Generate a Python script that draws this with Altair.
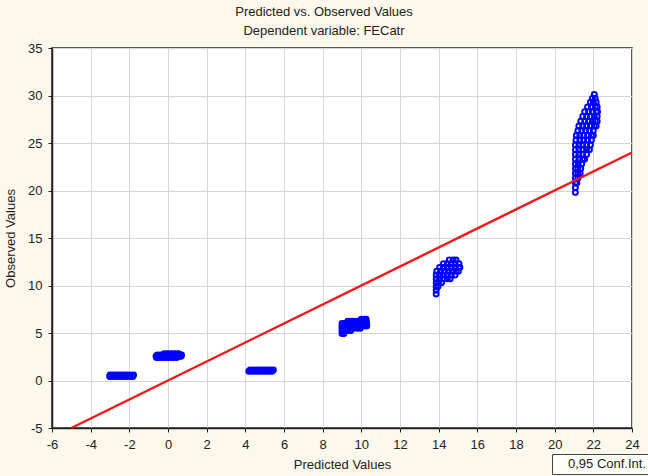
import altair as alt
import pandas as pd

cluster1 = {
    0.42: [-3.02, -2.87, -2.72, -2.57, -2.42, -2.27, -2.12, -1.97, -1.82],
    0.58: [-3.0, -2.85, -2.7, -2.55, -2.4, -2.25, -2.1, -1.95, -1.78],
}
cluster2 = {
    2.42: [-0.6, -0.45, -0.3, -0.15, 0.0, 0.15, 0.3, 0.45],
    2.55: [-0.62, -0.47, -0.32, -0.17, -0.02, 0.13, 0.28, 0.43, 0.58, 0.68],
    2.7: [-0.55, -0.4, -0.25, -0.1, 0.05, 0.2, 0.35, 0.5, 0.65, 0.7],
    2.83: [-0.2, -0.05, 0.1, 0.25, 0.4, 0.55],
}
cluster3 = {
    0.98: [4.18, 4.33, 4.48, 4.63, 4.78, 4.93, 5.08, 5.23, 5.38],
    1.1: [4.25, 4.4, 4.55, 4.7, 4.85, 5.0, 5.15, 5.3, 5.45],
}
cluster4 = {
    4.95: [9.0, 9.1],
    5.25: [9.0, 9.15, 9.3, 9.45],
    5.5: [9.0, 9.15, 9.3, 9.45, 9.6, 9.8, 9.95],
    5.75: [9.0, 9.15, 9.3, 9.45, 9.6, 9.75, 9.9, 10.05, 10.2, 10.28],
    6.0: [9.0, 9.15, 9.3, 9.45, 9.6, 9.75, 9.9, 10.05, 10.2, 10.28],
    6.25: [9.3, 9.45, 9.6, 9.8, 9.95, 10.1, 10.25],
    6.45: [10.0, 10.15, 10.25],
}
cluster5 = {
    9.1: [13.87],
    9.5: [13.87],
    9.9: [13.87, 13.97],
    10.3: [13.87, 14.0, 14.15],
    10.7: [13.87, 14.05, 14.25, 14.45, 14.6],
    11.1: [13.87, 14.05, 14.25, 14.45, 14.65, 14.85],
    11.5: [13.9, 14.1, 14.3, 14.5, 14.7, 14.9, 15.02],
    11.9: [14.05, 14.25, 14.45, 14.65, 14.85, 15.05, 15.1],
    12.3: [14.25, 14.45, 14.65, 14.85, 15.05],
    12.7: [14.55, 14.75, 14.9],
}
cluster6 = {
    19.8: [21.07],
    20.3: [21.07],
    20.8: [21.07, 21.15],
    21.3: [21.07, 21.2],
    21.8: [21.07, 21.2, 21.32],
    22.3: [21.07, 21.2, 21.35],
    22.8: [21.07, 21.22, 21.4],
    23.3: [21.07, 21.25, 21.45, 21.55],
    23.8: [21.07, 21.25, 21.45, 21.65],
    24.3: [21.07, 21.25, 21.45, 21.65, 21.8],
    24.8: [21.07, 21.25, 21.45, 21.65, 21.85],
    25.3: [21.1, 21.3, 21.5, 21.7, 21.9],
    25.8: [21.12, 21.3, 21.5, 21.7, 21.9, 22.0],
    26.3: [21.2, 21.4, 21.6, 21.8, 22.0],
    26.8: [21.25, 21.45, 21.65, 21.85, 22.05, 22.15],
    27.3: [21.35, 21.55, 21.75, 21.95, 22.1, 22.2],
    27.8: [21.45, 21.65, 21.85, 22.05, 22.2],
    28.3: [21.55, 21.75, 21.95, 22.15, 22.22],
    28.8: [21.7, 21.9, 22.1, 22.2],
    29.3: [21.85, 22.0, 22.15],
    29.7: [21.95, 22.1],
    30.1: [22.05],
}
clusters = [cluster1, cluster2, cluster3, cluster4, cluster5, cluster6]

# fitted line (observed = predicted)
line_pred = [-5, 24]
line_obs = [-5, 24]
line_label = "0,95 Conf.Int."

x_ticks = [-6, -4, -2, 0, 2, 4, 6, 8, 10, 12, 14, 16, 18, 20, 22, 24]
y_ticks = [-5, 0, 5, 10, 15, 20, 25, 30, 35]

rows = []
for c in clusters:
    for obs, preds in c.items():
        for p in preds:
            rows.append({"pred": p, "obs": obs})
pts = pd.DataFrame(rows)
ldf = pd.DataFrame({"pred": line_pred, "obs": line_obs, "lab": [line_label] * 2})

FONT = "Liberation Sans"
xs = alt.Scale(domain=[-6, 24], nice=False, zero=False)
ys = alt.Scale(domain=[-5, 35], nice=False, zero=False)

xaxis = alt.Axis(values=x_ticks, title="Predicted Values", labelExpr="datum.value",
                 grid=True, tickSize=4, labelPadding=6, titlePadding=7,
                 labelOverlap=False, labelFlush=False)
yaxis = alt.Axis(values=y_ticks, title="Observed Values", labelExpr="datum.value",
                 grid=True, tickSize=4, labelPadding=6, titlePadding=10,
                 labelOverlap=False, labelFlush=False)

points = alt.Chart(pts).mark_point(shape="circle", filled=False, color="#0000FF",
                                   size=24, strokeWidth=2.0, opacity=1).encode(
    x=alt.X("pred:Q", scale=xs, axis=xaxis),
    y=alt.Y("obs:Q", scale=ys, axis=yaxis),
)

line = alt.Chart(ldf).mark_line(strokeWidth=2.4).encode(
    x=alt.X("pred:Q", scale=xs, axis=xaxis),
    y=alt.Y("obs:Q", scale=ys, axis=yaxis),
    color=alt.Color("lab:N", scale=alt.Scale(range=["#F01818"]),
                    legend=alt.Legend(orient="none", legendX=500, legendY=406, title=None,
                                      symbolSize=0, symbolOpacity=0, symbolStrokeWidth=0,
                                      labelOffset=0, labelFontSize=13, labelFont=FONT,
                                      labelColor="#222", padding=3, labelLimit=200,
                                      strokeColor="#444", fillColor="#FFFEF8")),
)

chart = alt.layer(points, line).properties(
    width=580, height=380,
    title=alt.TitleParams(text=["Predicted vs. Observed Values", "Dependent variable: FECatr"],
                          font=FONT, fontSize=13, fontWeight="normal", color="#222",
                          anchor="middle", dx=-18, offset=4, lineHeight=19),
    autosize=alt.AutoSizeParams(type="none"),
    padding={"left": 52, "top": 48, "right": 16, "bottom": 48},
    background="#FDF8EC",
).configure_view(
    fill="white", stroke="#222", strokeWidth=1.5
).configure_axis(
    labelFont=FONT, labelFontSize=13, labelColor="#222",
    titleFont=FONT, titleFontSize=13, titleFontWeight="normal", titleColor="#222",
    gridColor="#D6D6D6", gridWidth=1, domainColor="#222", domainWidth=1.5,
    tickColor="#222",
)

chart.save("out.html", embed_options={"renderer": "svg", "actions": False})
